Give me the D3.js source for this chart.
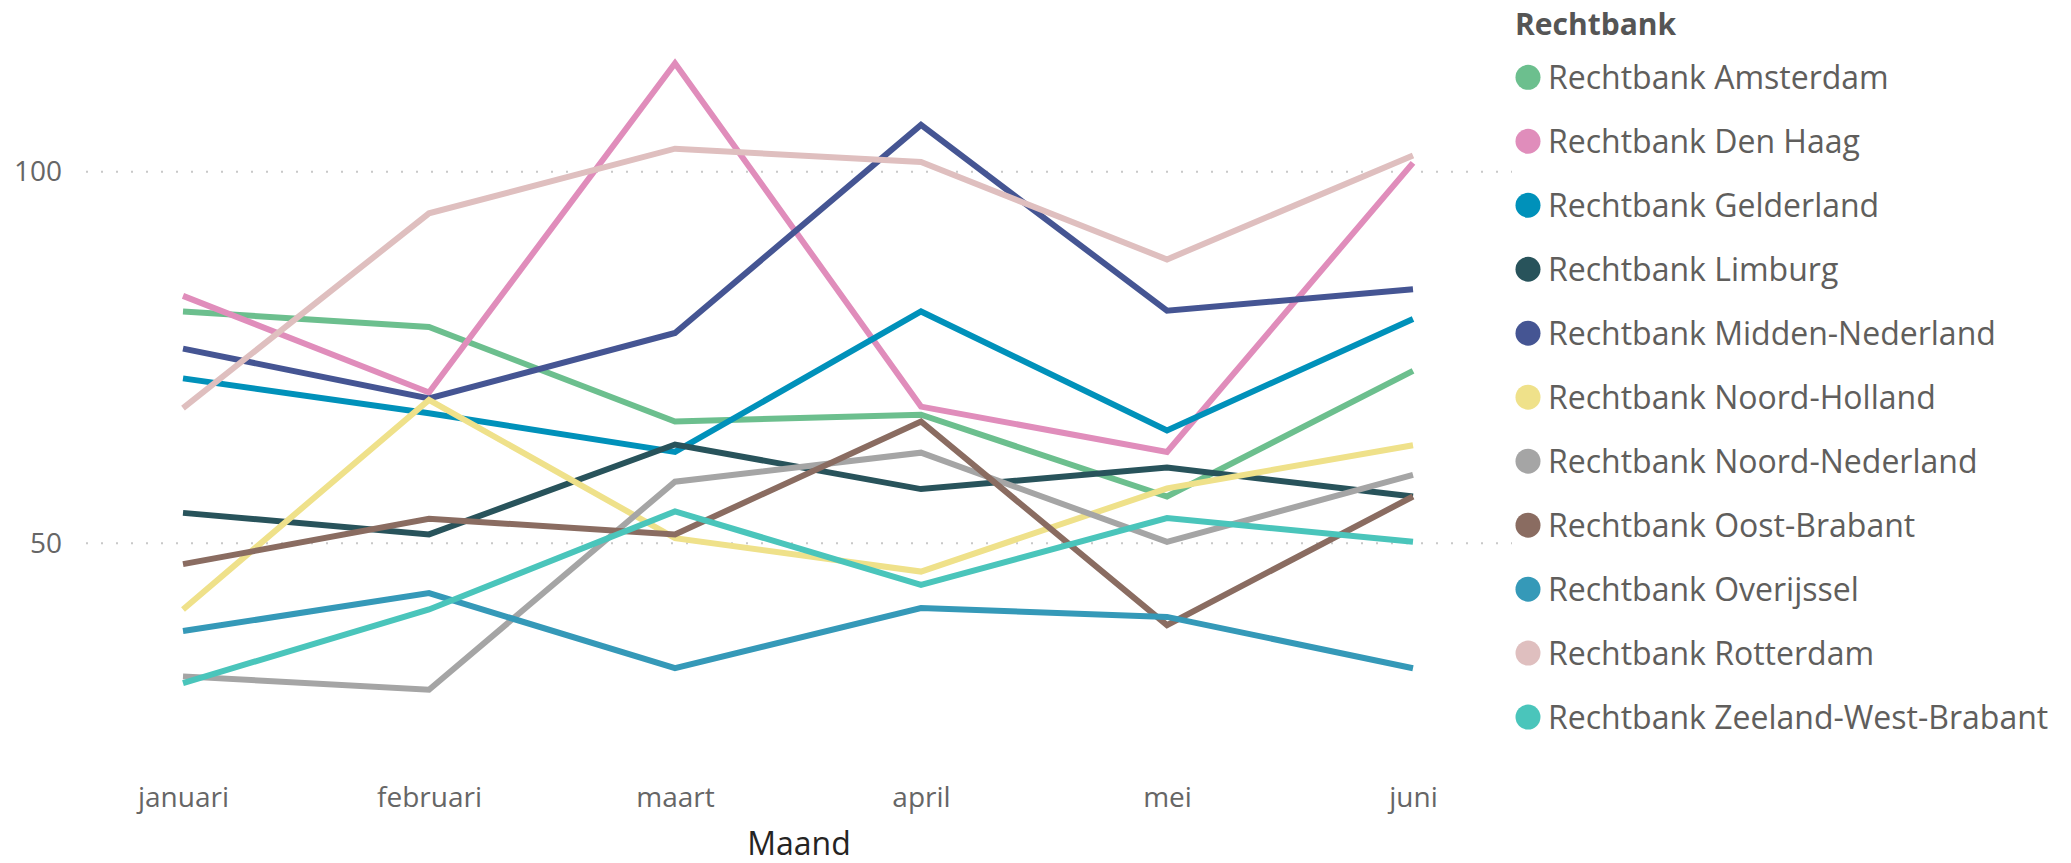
<!DOCTYPE html>
<html lang="nl">
<head>
<meta charset="utf-8">
<title>Rechtbank per maand</title>
<script src="https://cdn.jsdelivr.net/npm/d3@7"></script>
<style>
    body { margin: 0; background: #fff; }
    svg { display: block; font-family: "Segoe UI", "Open Sans", sans-serif; }
</style>
</head>
<body>
<svg id="chart" width="2071" height="863"></svg>
<script>
// months on the x axis
const months = ["januari", "februari", "maart", "april", "mei", "juni"]

const courts = [
    "Rechtbank Amsterdam", "Rechtbank Den Haag", "Rechtbank Gelderland", "Rechtbank Limburg",
    "Rechtbank Midden-Nederland", "Rechtbank Noord-Holland", "Rechtbank Noord-Nederland",
    "Rechtbank Oost-Brabant", "Rechtbank Overijssel", "Rechtbank Rotterdam", "Rechtbank Zeeland-West-Brabant"
]

const colors = ["#6cbf8e", "#e08dbb", "#0091ba", "#28535b", "#455593", "#efe18a",
    "#a5a5a5", "#8a6c61", "#3599b8", "#dfbfbf", "#4ac5bb"]

// values, jan..jun
const amsterdam      = [81.2, 79.1, 66.4, 67.3, 56.3, 73.2]
const denHaag        = [83.3, 70.3, 114.6, 68.4, 62.3, 101.2]
const gelderland     = [72.2, 67.5, 62.3, 81.2, 65.2, 80.2]
const limburg        = [54.1, 51.2, 63.3, 57.3, 60.2, 56.3]
const middenNl       = [76.2, 69.5, 78.3, 106.3, 81.3, 84.2]
const noordHolland   = [41.1, 69.3, 50.7, 46.2, 57.4, 63.2]
const noordNl        = [32.1, 30.3, 58.3, 62.2, 50.2, 59.2]
const oostBrabant    = [47.2, 53.3, 51.2, 66.4, 39.0, 56.3]
const overijssel     = [38.2, 43.3, 33.2, 41.3, 40.1, 33.2]
const rotterdam      = [68.2, 94.4, 103.1, 101.3, 88.2, 102.2]
const zeeland        = [31.2, 41.1, 54.3, 44.4, 53.4, 50.2]

const seriesValues = [amsterdam, denHaag, gelderland, limburg, middenNl, noordHolland,
    noordNl, oostBrabant, overijssel, rotterdam, zeeland]

const yTicks = [50, 100]

const svg = d3.select("#chart")

const x = d3.scalePoint().domain(months).range([183, 1413])
const y = d3.scaleLinear().domain([20, 120]).range([766.3, 23.1])

// dotted gridlines
svg.append("g")
    .selectAll("line")
    .data(yTicks)
    .join("line")
    .attr("x1", 86)
    .attr("x2", 1512)
    .attr("y1", d => y(d))
    .attr("y2", d => y(d))
    .attr("stroke", "#c8c8c8")
    .attr("stroke-width", 2)
    .attr("stroke-dasharray", "2,13")

// y axis labels
const yAxis = svg.append("g")
    .attr("transform", "translate(62,0)")
    .call(d3.axisLeft(y).tickValues(yTicks).tickSize(0).tickPadding(0))
yAxis.select(".domain").remove()
yAxis.selectAll("text")
    .attr("font-size", 28)
    .attr("font-family", "Segoe UI, Open Sans, sans-serif")
    .attr("fill", "#666")

// x axis labels
const xAxis = svg.append("g")
    .attr("transform", "translate(0,780)")
    .call(d3.axisBottom(x).tickSize(0).tickPadding(0))
xAxis.select(".domain").remove()
xAxis.selectAll("text")
    .attr("dy", null)
    .attr("y", 27)
    .attr("font-size", 28)
    .attr("font-family", "Segoe UI, Open Sans, sans-serif")
    .attr("fill", "#666")

svg.append("text")
    .attr("x", 799)
    .attr("y", 855)
    .attr("text-anchor", "middle")
    .attr("font-size", 32)
    .attr("fill", "#252423")
    .text("Maand")

// lines
const line = d3.line()
    .x((d, i) => x(months[i]))
    .y(d => y(d))

svg.append("g")
    .selectAll("path")
    .data(seriesValues)
    .join("path")
    .attr("d", line)
    .attr("fill", "none")
    .attr("stroke", (d, i) => colors[i])
    .attr("stroke-width", 6)
    .attr("stroke-linejoin", "miter")

// legend
const legend = svg.append("g")
legend.append("text")
    .attr("x", 1515)
    .attr("y", 35)
    .attr("font-size", 30)
    .attr("font-weight", "bold")
    .attr("fill", "#555")
    .text("Rechtbank")

const items = legend.selectAll("g.item")
    .data(courts)
    .join("g")
    .attr("class", "item")
    .attr("transform", (d, i) => `translate(1528,${77.3 + i * 63.98})`)

items.append("circle")
    .attr("r", 12.5)
    .attr("fill", (d, i) => colors[i])

items.append("text")
    .attr("x", 20)
    .attr("y", 12)
    .attr("font-size", 32)
    .attr("fill", "#605e5c")
    .text(d => d)
</script>
</body>
</html>
